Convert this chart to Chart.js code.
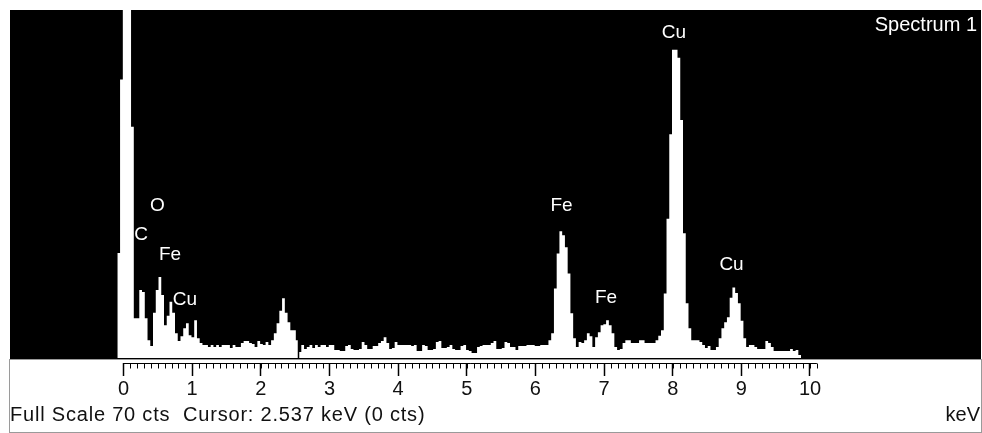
<!DOCTYPE html>
<html>
<head>
<meta charset="utf-8">
<script src="https://cdn.jsdelivr.net/npm/chart.js@4"></script>
<style>
  html, body { margin: 0; padding: 0; background: #fff; }
  #spectrum { display: block; }
</style>
</head>
<body>
<canvas id="spectrum" width="982" height="433"></canvas>
<script>
// EDS spectrum, 0.04 keV bins starting at -0.09 keV (counts)
const binStartKeV = -0.09;
const binWidthKeV = 0.04;
const counts = [
  21.1, 56, 95, 95, 95, 46.5, 8.0, 8.0, 13.7, 13.3,
  8.0, 3.6, 2.4, 9.1, 13.7, 16.3, 12.7, 6.6, 8.5, 11.3,
  9.1, 5.0, 3.4, 4.4, 6.0, 7.0, 4.6, 4.2, 7.6, 4.0,
  3.0, 2.6, 2.6, 2.2, 2.6, 2.2, 2.6, 2.2, 2.6, 2.6,
  2.6, 2.0, 2.6, 2.2, 2.2, 3.0, 3.4, 3.4, 3.0, 2.8,
  2.2, 3.4, 2.8, 2.6, 3.2, 2.6, 3.6, 5.0, 7.0, 9.5,
  12.0, 9.1, 7.2, 5.6, 5.6, 3.6, 1.2, 2.6, 1.8, 2.2,
  2.6, 2.0, 2.6, 2.2, 2.6, 2.6, 2.2, 2.6, 2.6, 1.6,
  1.6, 1.4, 1.4, 2.4, 2.6, 1.8, 1.6, 1.6, 1.8, 3.2,
  2.6, 1.8, 1.8, 2.4, 2.4, 3.0, 3.4, 4.2, 3.0, 1.8,
  2.0, 3.2, 2.6, 2.6, 2.6, 2.6, 2.6, 2.4, 2.6, 1.4,
  1.4, 2.6, 2.4, 1.6, 1.6, 1.8, 3.2, 3.4, 2.0, 2.0,
  2.2, 2.6, 1.8, 1.6, 1.6, 2.4, 2.6, 1.6, 1.4, 1.0,
  1.0, 2.2, 2.4, 2.6, 2.6, 2.6, 3.0, 3.4, 1.8, 1.8,
  2.0, 3.2, 3.0, 2.2, 2.2, 1.6, 2.4, 2.4, 2.4, 2.6,
  2.6, 2.6, 2.4, 2.4, 2.6, 2.6, 2.6, 3.6, 5.0, 14.0,
  21.0, 25.5, 24.7, 22.3, 17.0, 9.0, 4.0, 2.2, 3.2, 3.0,
  3.6, 5.0, 4.4, 2.2, 4.2, 5.2, 6.6, 6.8, 7.6, 6.6,
  5.0, 2.2, 1.6, 1.8, 3.0, 3.6, 3.6, 3.0, 3.0, 3.0,
  3.6, 3.6, 3.0, 3.0, 3.0, 3.0, 3.6, 4.5, 5.6, 13.0,
  28.0, 45.0, 62.0, 62.0, 60.4, 47.9, 25.1, 11.0, 6.0, 3.6,
  3.6, 3.6, 3.2, 2.6, 2.0, 2.4, 1.6, 1.6, 2.2, 4.0,
  6.0, 7.2, 8.2, 12.1, 14.2, 13.1, 11.0, 7.5, 4.0, 2.2,
  2.6, 2.6, 2.2, 1.8, 1.8, 1.8, 3.4, 3.0, 2.2, 1.4,
  1.4, 1.4, 1.4, 1.4, 1.4, 1.8, 1.4, 1.6, 0.6
];

const majorTicks = [0, 1, 2, 3, 4, 5, 6, 7, 8, 9, 10];
const rulerEndKeV = 10.1;

// peak labels: name, energy (keV), height of the label centre (cts)
const peakNames = ['C', 'O', 'Fe', 'Cu', 'Fe', 'Fe', 'Cu', 'Cu'];
const peakKeV = [0.255, 0.495, 0.677, 0.896, 6.381, 7.028, 8.019, 8.857];
const peakLabelCts = [24.75, 30.7, 20.8, 11.8, 30.7, 12.2, 65.5, 18.8];

const fullScaleCts = 70;
const cursorKeV = 2.537;
const cursorCts = 0;
const spectrumName = 'Spectrum 1';
const unitLabel = 'keV';

const FONT = '"Liberation Sans", Arial, sans-serif';

const points = counts.map((c, i) => ({ x: binStartKeV + i * binWidthKeV, y: c }));
points.push({ x: binStartKeV + counts.length * binWidthKeV, y: counts[counts.length - 1] });

const spectrumFrame = {
  id: 'spectrumFrame',
  beforeDraw(chart) {
    const { ctx, chartArea: a } = chart;
    ctx.save();
    ctx.fillStyle = '#000';
    ctx.fillRect(a.left, a.top, a.right - a.left, a.bottom - 3 - a.top);
    ctx.strokeStyle = '#9a9a9a';
    ctx.lineWidth = 1;
    ctx.strokeRect(a.left - 0.5, a.bottom - 3.5, a.right - a.left + 1, chart.height - a.bottom + 3);
    ctx.restore();
  },
  afterDatasetsDraw(chart) {
    const { ctx, chartArea: a, scales: { x, y } } = chart;
    ctx.save();
    // cursor
    const cx = Math.round(x.getPixelForValue(cursorKeV)) + 0.5;
    ctx.strokeStyle = '#000';
    ctx.lineWidth = 1.5;
    ctx.beginPath();
    ctx.moveTo(cx, a.top);
    ctx.lineTo(cx, y.getPixelForValue(0));
    ctx.stroke();

    // peak labels, xor-like over the spectrum
    ctx.globalCompositeOperation = 'difference';
    ctx.fillStyle = '#fff';
    ctx.font = '19px ' + FONT;
    ctx.textAlign = 'center';
    ctx.textBaseline = 'middle';
    peakNames.forEach((n, i) => {
      ctx.fillText(n, x.getPixelForValue(peakKeV[i]), y.getPixelForValue(peakLabelCts[i]));
    });
    ctx.globalCompositeOperation = 'source-over';

    ctx.font = '20px ' + FONT;
    ctx.textAlign = 'right';
    ctx.fillText(spectrumName, a.right - 4, a.top + 15);
    ctx.restore();
  },
  afterDraw(chart) {
    const { ctx, chartArea: a, scales: { x } } = chart;
    ctx.save();
    ctx.strokeStyle = '#000';
    ctx.lineWidth = 1;
    const y0 = a.bottom + 0.5;
    ctx.beginPath();
    ctx.moveTo(x.getPixelForValue(0), y0);
    ctx.lineTo(x.getPixelForValue(rulerEndKeV), y0);
    for (let k = 0; k <= Math.round(rulerEndKeV * 10); k++) {
      const px = Math.round(x.getPixelForValue(k / 10)) + 0.5;
      ctx.moveTo(px, y0);
      ctx.lineTo(px, y0 + 5);
    }
    ctx.stroke();

    ctx.fillStyle = '#111';
    ctx.font = '20px ' + FONT;
    ctx.textBaseline = 'alphabetic';
    ctx.textAlign = 'left';
    if ('letterSpacing' in ctx) ctx.letterSpacing = '0.8px';
    ctx.fillText(`Full Scale ${fullScaleCts} cts  Cursor: ${cursorKeV.toFixed(3)} keV (${cursorCts} cts)`, a.left, 421);
    if ('letterSpacing' in ctx) ctx.letterSpacing = '0px';
    ctx.textAlign = 'right';
    ctx.fillText(unitLabel, a.right - 1, 421);
    ctx.restore();
  }
};

new Chart(document.getElementById('spectrum'), {
  type: 'line',
  data: {
    datasets: [{
      data: points,
      stepped: 'before',
      fill: 'origin',
      backgroundColor: '#fff',
      borderWidth: 0,
      pointRadius: 0
    }]
  },
  options: {
    animation: false,
    responsive: false,
    devicePixelRatio: 1,
    events: [],
    layout: { padding: { left: 10, right: 1, top: 10, bottom: 0 } },
    plugins: { legend: { display: false }, tooltip: { enabled: false } },
    scales: {
      x: {
        type: 'linear',
        min: -1.6533,
        max: 12.4909,
        afterBuildTicks: s => { s.ticks = majorTicks.map(v => ({ value: v })); },
        afterFit: s => { s.height = 70; },
        border: { display: false },
        grid: { drawOnChartArea: false, tickLength: 13, tickColor: '#000', tickWidth: 1.5 },
        ticks: { color: '#111', font: { family: FONT, size: 20 }, padding: 1, maxRotation: 0, autoSkip: false }
      },
      y: { display: false, min: -1, max: fullScaleCts }
    }
  },
  plugins: [spectrumFrame]
});
</script>
</body>
</html>
